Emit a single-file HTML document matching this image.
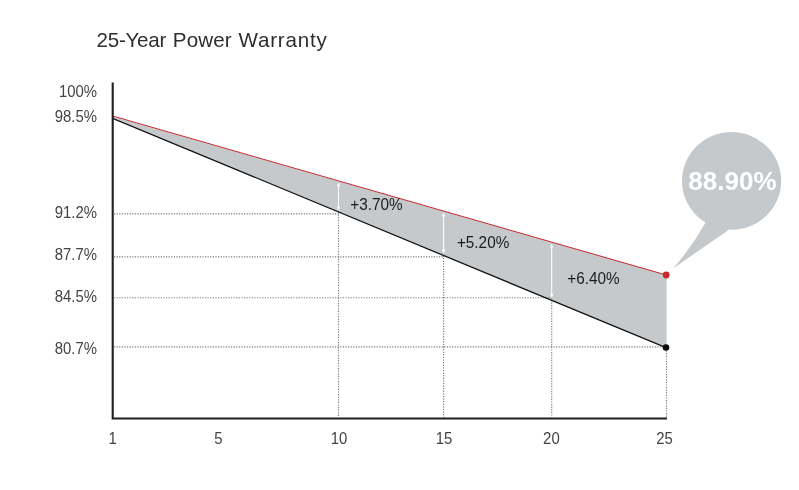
<!DOCTYPE html>
<html lang="en">
<head>
<meta charset="utf-8">
<title>25-Year Power Warranty</title>
<style>
  html, body { margin: 0; padding: 0; background: #ffffff; }
  body { width: 799px; height: 490px; overflow: hidden; position: relative;
         font-family: "Liberation Sans", sans-serif; }
  svg { position: absolute; left: 0; top: 0; display: block; }
  text { font-family: "Liberation Sans", sans-serif; }
  .title { font-size: 20.6px; fill: #2e2e2e; }
  .ylab  { font-size: 16.4px; fill: #444444; text-anchor: end; }
  .xlab  { font-size: 16.4px; fill: #444444; text-anchor: middle; }
  .ann   { font-size: 16.4px; fill: #1c1c1c; }
  .big   { font-size: 26px; letter-spacing: 0.05px; font-weight: bold; fill: #ffffff; text-anchor: middle; }
  .dot   { stroke: #7a7a7a; stroke-width: 1.15; stroke-dasharray: 1.2 1.4; fill: none; }
  .arrow { stroke: #ffffff; stroke-width: 1.05; fill: none; }
  .head  { fill: #ffffff; }
</style>
</head>
<body>
<svg width="799" height="490" viewBox="0 0 799 490">
  <rect x="0" y="0" width="799" height="490" fill="#ffffff"/>

  <!-- title -->
  <text class="title" y="47.4"><tspan x="96.6" style="letter-spacing:-0.28px">25-Year </tspan><tspan x="172.8" style="letter-spacing:0.12px">Power </tspan><tspan x="238.5" style="letter-spacing:0.79px">Warranty</tspan></text>

  <!-- speech bubble -->
  <g fill="#c5c9cb">
    <ellipse cx="731.6" cy="180.9" rx="49.6" ry="48.85"/>
    <path d="M673,268.5 Q691.5,247.6 705.2,223.3 L712,211 L731,221 L727.5,230.7 Z"/>
  </g>
  <text class="big" x="732.4" y="190.2">88.90%</text>

  <!-- grey band between curves -->
  <polygon points="112.7,116.6 666.6,275 666.6,347.5 112.7,117.6" fill="#c5c9cb"/>

  <!-- dotted guides -->
  <g class="dot">
    <line x1="114" y1="213.9" x2="338.5" y2="213.9"/>
    <line x1="114" y1="256.8" x2="443.6" y2="256.8"/>
    <line x1="114" y1="297.7" x2="551.7" y2="297.7"/>
    <line x1="114" y1="346.8" x2="666" y2="346.8"/>
    <line x1="338.5" y1="212" x2="338.5" y2="417.5"/>
    <line x1="443.6" y1="255.5" x2="443.6" y2="417.5"/>
    <line x1="551.7" y1="300" x2="551.7" y2="417.5"/>
    <line x1="666.5" y1="348" x2="666.5" y2="417.5"/>
  </g>

  <!-- curves -->
  <line x1="112.7" y1="118.3" x2="666" y2="347.7" stroke="#111111" stroke-width="1.3"/>
  <line x1="112.7" y1="116" x2="666.2" y2="275" stroke="#c8282d" stroke-width="1"/>

  <!-- white double arrows -->
  <g>
    <line class="arrow" x1="338.5" y1="184.4" x2="338.5" y2="208.5"/>
    <polygon class="head" points="338.5,182.4 340.25,186.2 336.75,186.2"/>
    <polygon class="head" points="338.5,210.5 340.25,206.7 336.75,206.7"/>

    <line class="arrow" x1="443.6" y1="214.8" x2="443.6" y2="251.4"/>
    <polygon class="head" points="443.6,212.8 445.35,216.6 441.85,216.6"/>
    <polygon class="head" points="443.6,253.4 445.35,249.6 441.85,249.6"/>

    <line class="arrow" x1="551.7" y1="245.8" x2="551.7" y2="296"/>
    <polygon class="head" points="551.7,243.8 553.45,247.6 549.95,247.6"/>
    <polygon class="head" points="551.7,298 553.45,294.2 549.95,294.2"/>
  </g>

  <!-- annotations -->
  <text class="ann" transform="translate(350.2,210) scale(0.935,1)">+3.70%</text>
  <text class="ann" transform="translate(456.9,247.7) scale(0.935,1)">+5.20%</text>
  <text class="ann" transform="translate(567.2,283.6) scale(0.935,1)">+6.40%</text>

  <!-- end points -->
  <circle cx="666.2" cy="275" r="3.4" fill="#c8282d"/>
  <circle cx="666" cy="347.5" r="3.3" fill="#0c0c0c"/>

  <!-- axes -->
  <path d="M112.7,82.5 V418.5 H667" fill="none" stroke="#1e1e1e" stroke-width="2.1" stroke-linejoin="miter"/>

  <!-- y labels -->
  <text class="ylab" transform="translate(97,96.9) scale(0.91,1)">100%</text>
  <text class="ylab" transform="translate(97,121.9) scale(0.91,1)">98.5%</text>
  <text class="ylab" transform="translate(97,217.6) scale(0.91,1)">91.2%</text>
  <text class="ylab" transform="translate(97,259.8) scale(0.91,1)">87.7%</text>
  <text class="ylab" transform="translate(97,301.7) scale(0.91,1)">84.5%</text>
  <text class="ylab" transform="translate(97,353.5) scale(0.91,1)">80.7%</text>

  <!-- x labels -->
  <text class="xlab" transform="translate(112.7,443.7) scale(0.91,1)">1</text>
  <text class="xlab" transform="translate(218.5,443.7) scale(0.91,1)">5</text>
  <text class="xlab" transform="translate(339,443.7) scale(0.91,1)">10</text>
  <text class="xlab" transform="translate(444,443.7) scale(0.91,1)">15</text>
  <text class="xlab" transform="translate(551.4,443.7) scale(0.91,1)">20</text>
  <text class="xlab" transform="translate(664.5,443.7) scale(0.91,1)">25</text>
</svg>
</body>
</html>
